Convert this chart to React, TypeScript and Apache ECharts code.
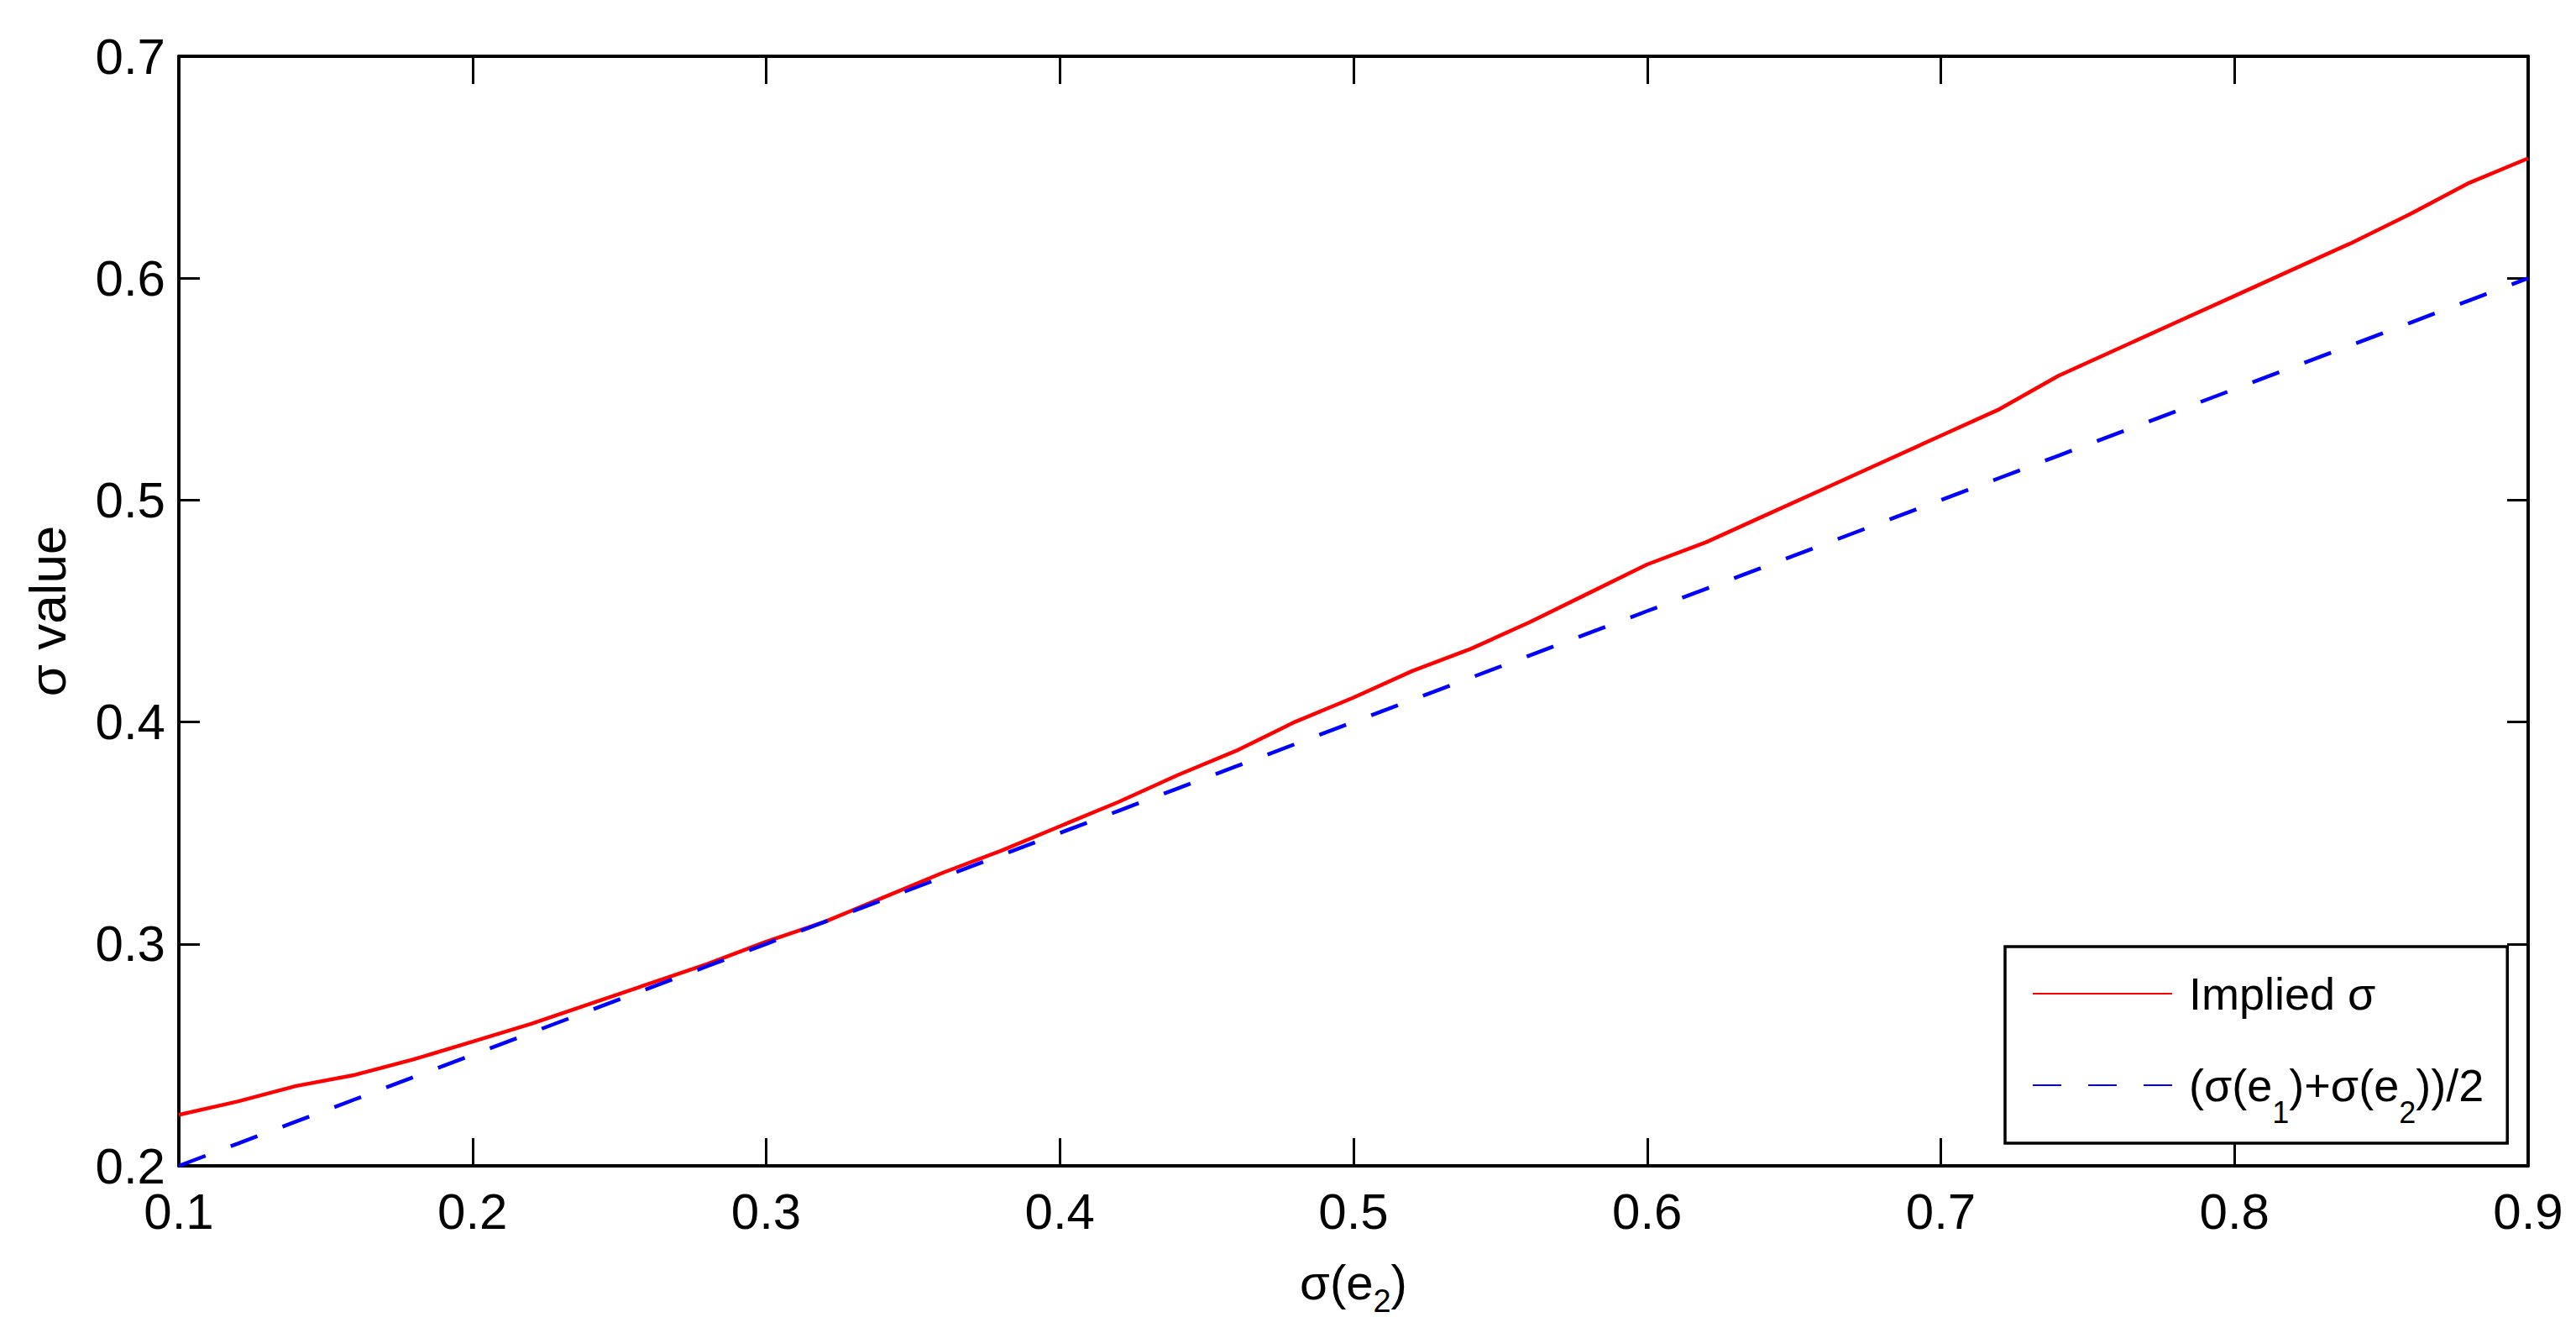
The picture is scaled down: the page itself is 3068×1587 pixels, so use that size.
import React, { useEffect, useRef } from "react";
import * as echarts from "echarts";

const xValues = [
  0.1, 0.12, 0.14, 0.16, 0.18, 0.2, 0.22, 0.24, 0.26, 0.28, 0.3, 0.32, 0.34, 0.36,
  0.38, 0.4, 0.42, 0.44, 0.46, 0.48, 0.5, 0.52, 0.54, 0.56, 0.58, 0.6, 0.62, 0.64,
  0.66, 0.68, 0.7, 0.72, 0.74, 0.76, 0.78, 0.8, 0.82, 0.84, 0.86, 0.88, 0.9,
];

const impliedSigma = [
  0.223, 0.229, 0.236, 0.241, 0.248, 0.256, 0.264, 0.273, 0.282, 0.291, 0.301, 0.31,
  0.321, 0.332, 0.342, 0.353, 0.364, 0.376, 0.387, 0.4, 0.411, 0.423, 0.433, 0.445,
  0.458, 0.471, 0.481, 0.493, 0.505, 0.517, 0.529, 0.541, 0.556, 0.568, 0.58, 0.592,
  0.604, 0.616, 0.629, 0.643, 0.654,
];

const averageSigma = [
  0.2, 0.21, 0.22, 0.23, 0.24, 0.25, 0.26, 0.27, 0.28, 0.29, 0.3, 0.31, 0.32, 0.33,
  0.34, 0.35, 0.36, 0.37, 0.38, 0.39, 0.4, 0.41, 0.42, 0.43, 0.44, 0.45, 0.46, 0.47,
  0.48, 0.49, 0.5, 0.51, 0.52, 0.53, 0.54, 0.55, 0.56, 0.57, 0.58, 0.59, 0.6,
];

const seriesNames = ["Implied σ", "(σ(e1)+σ(e2))/2"];
const yAxisTitle = "σ value";

const FONT = '"Liberation Sans", Arial, Helvetica, sans-serif';

export default function App() {
  const ref = useRef<HTMLDivElement>(null);

  useEffect(() => {
    if (!ref.current) return;
    const chart = echarts.init(ref.current, undefined, { renderer: "svg" });

    const nameRich = {
      a: { fontFamily: FONT, fontSize: 58, lineHeight: 62, color: "#000" },
      b: { fontFamily: FONT, fontSize: 38, lineHeight: 62, color: "#000", padding: [46, 0, 0, 0] },
    };
    const legendRich = {
      a: { fontFamily: FONT, fontSize: 54, lineHeight: 62, color: "#000" },
      c: { fontFamily: FONT, fontSize: 36, lineHeight: 62, color: "#000", padding: [64, 0, 0, 0] },
    };

    const axisLine = { show: true, onZero: false, lineStyle: { color: "#000", width: 4 } };
    const xTick = { show: true, inside: true, length: 33, lineStyle: { color: "#000", width: 3 } };
    const yTick = { show: true, inside: true, length: 25, lineStyle: { color: "#000", width: 3 } };
    const fmt = (v: number) => v.toFixed(1);

    const option: any = {
      animation: false,
      backgroundColor: "#fff",
      grid: { left: 213, right: 57, top: 67, bottom: 199, containLabel: false },
      xAxis: [
        {
          type: "value",
          position: "bottom",
          min: 0.1,
          max: 0.9,
          interval: 0.1,
          axisLine,
          axisTick: xTick,
          splitLine: { show: false },
          axisLabel: {
            margin: 23,
            fontSize: 60,
            lineHeight: 62,
            fontFamily: FONT,
            color: "#000",
            formatter: fmt,
          },
          name: "{a|σ(e}{b|2}{a|)}",
          nameLocation: "middle",
          nameGap: 107,
          nameTextStyle: {
            fontFamily: FONT,
            fontSize: 58,
            lineHeight: 62,
            color: "#000",
            rich: nameRich,
          },
        },
        {
          type: "value",
          position: "top",
          min: 0.1,
          max: 0.9,
          interval: 0.1,
          axisLine,
          axisTick: xTick,
          splitLine: { show: false },
          axisLabel: { show: false },
        },
      ],
      yAxis: [
        {
          type: "value",
          position: "left",
          min: 0.2,
          max: 0.7,
          interval: 0.1,
          axisLine,
          axisTick: yTick,
          splitLine: { show: false },
          axisLabel: {
            margin: 16,
            fontSize: 60,
            lineHeight: 62,
            fontFamily: FONT,
            color: "#000",
            formatter: fmt,
          },
          name: yAxisTitle,
          nameLocation: "middle",
          nameRotate: 90,
          nameGap: 126,
          nameTextStyle: { fontFamily: FONT, fontSize: 62, lineHeight: 62, color: "#000" },
        },
        {
          type: "value",
          position: "right",
          min: 0.2,
          max: 0.7,
          interval: 0.1,
          axisLine,
          axisTick: yTick,
          splitLine: { show: false },
          axisLabel: { show: false },
        },
      ],
      legend: {
        orient: "vertical",
        left: 2388,
        top: 1127,
        padding: [25, 28, 19, 32],
        itemGap: 28,
        itemWidth: 166,
        itemHeight: 2,
        itemStyle: { opacity: 0 },
        borderColor: "#000",
        borderWidth: 3.5,
        borderRadius: 0,
        backgroundColor: "#fff",
        selectedMode: false,
        data: seriesNames,
        formatter: (name: string) =>
          name === seriesNames[0]
            ? "{a|Implied σ}"
            : "{a|(σ(e}{c|1}{a|)+σ(e}{c|2}{a|))/2}",
        textStyle: {
          fontFamily: FONT,
          fontSize: 54,
          lineHeight: 62,
          color: "#000",
          padding: [0, 0, 0, 15],
          rich: legendRich,
        },
      },
      series: [
        {
          name: seriesNames[0],
          type: "line",
          xAxisIndex: 0,
          yAxisIndex: 0,
          symbol: "none",
          showSymbol: false,
          smooth: false,
          lineStyle: { color: "#ff0000", width: 4.5, type: "solid" },
          itemStyle: { color: "#ff0000" },
          data: xValues.map((x, i) => [x, impliedSigma[i]]),
        },
        {
          name: seriesNames[1],
          type: "line",
          xAxisIndex: 0,
          yAxisIndex: 0,
          symbol: "none",
          showSymbol: false,
          smooth: false,
          lineStyle: { color: "#0000ff", width: 4.5, type: [34, 32] },
          itemStyle: { color: "#0000ff" },
          data: xValues.map((x, i) => [x, averageSigma[i]]),
        },
      ],
    };

    chart.setOption(option);
    return () => chart.dispose();
  }, []);

  return (
    <div
      ref={ref}
      style={{ position: "absolute", left: 0, top: 0, width: 3068, height: 1587, background: "#fff" }}
    />
  );
}
